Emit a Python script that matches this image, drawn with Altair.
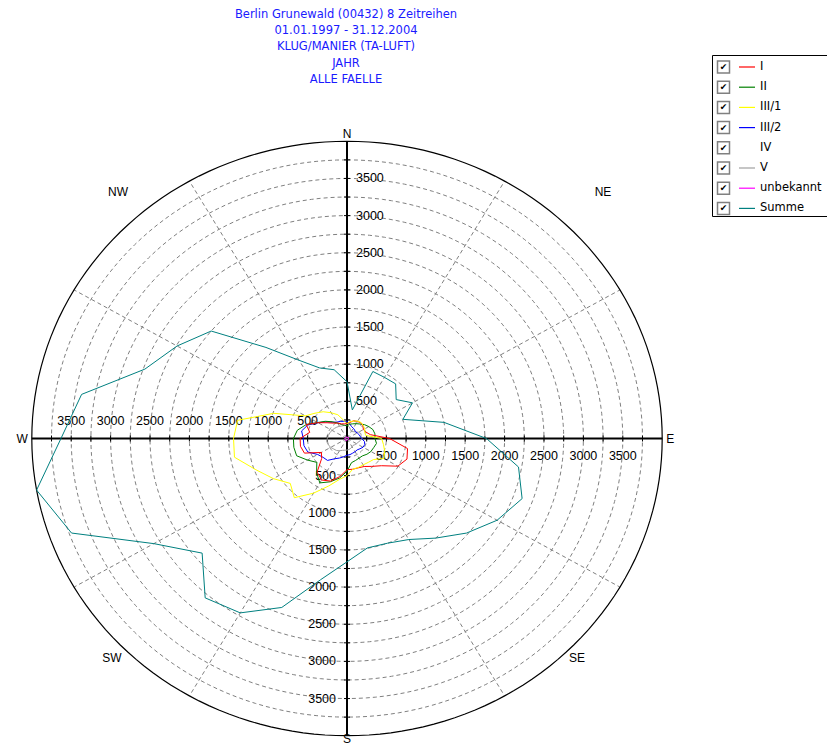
import altair as alt
import numpy as np
import pandas as pd

# ---- values per wind direction (degrees clockwise from north, 10-degree sectors)
bearings = list(range(0, 360, 10))

serie_I = [200, 220, 255, 265, 275, 265, 240, 255, 300, 540, 780, 810,
           745, 570, 490, 435, 420, 420, 420, 520, 610, 645, 590, 420,
           375, 575, 600, 595, 480, 550, 425, 330, 270, 240, 210, 200]
serie_II = [170, 195, 210, 230, 255, 290, 320, 350, 360, 355, 380, 360,
            350, 330, 305, 305, 315, 330, 440, 540, 620, 690, 600, 500,
            580, 680, 685, 680, 640, 550, 430, 360, 295, 240, 200, 180]
serie_III1 = [200, 230, 250, 270, 280, 270, 260, 240, 240, 440, 470, 510,
              540, 440, 420, 410, 415, 420, 500, 560, 680, 850, 1040, 940,
              1080, 1230, 1450, 1440, 1410, 990, 610, 530, 470, 400, 340, 250]
serie_III2 = [230, 200, 170, 160, 150, 140, 150, 160, 170, 185, 225, 240,
              235, 215, 200, 205, 210, 220, 225, 250, 280, 315, 385, 395,
              430, 530, 555, 555, 585, 530, 425, 350, 285, 255, 245, 235]
serie_IV = [15] * 36
serie_V = [180, 160, 130, 110, 120, 140, 170, 190, 180, 190, 170, 150,
           140, 130, 120, 130, 140, 150, 155, 160, 170, 190, 210, 220,
           240, 250, 260, 250, 240, 230, 220, 210, 200, 190, 180, 180]
serie_unbekannt = [20, 15, 15, 18, 20, 22, 25, 22, 20, 20, 18, 18,
                   15, 15, 15, 18, 20, 22, 25, 28, 30, 30, 28, 25,
                   28, 30, 32, 30, 28, 25, 22, 22, 20, 20, 20, 20]
serie_Summe = [764, 390, 960, 950, 960, 815, 960, 755, 1250, 1770, 2210, 2365,
               2200, 1980, 1750, 1570, 1500, 1495, 1660, 1930, 2420, 2710, 2800, 2400,
               2830, 3720, 4000, 3630, 3420, 2730, 2490, 2250, 1600, 1215, 1010, 940]

series_names = ["I", "II", "III/1", "III/2", "IV", "V", "unbekannt", "Summe"]
series_colors = ["#ff0000", "#008000", "#ffff00", "#0000ff", "#ffffff",
                 "#a0a0a0", "#ff00ff", "#008080"]
series_values = [serie_I, serie_II, serie_III1, serie_III2, serie_IV,
                 serie_V, serie_unbekannt, serie_Summe]
# drawing order, bottom to top
draw_order = ["IV", "unbekannt", "V", "III/2", "II", "I", "III/1", "Summe"]

title_lines = ["Berlin Grunewald (00432) 8 Zeitreihen",
               "01.01.1997 - 31.12.2004",
               "KLUG/MANIER (TA-LUFT)",
               "JAHR",
               "ALLE FAELLE"]

ring_values = list(range(250, 4000, 250))   # dashed rings
outer_radius = 4000                          # solid outer circle
spoke_bearings = [30, 60, 120, 150, 210, 240, 300, 330]
tick_labels = [500, 1000, 1500, 2000, 2500, 3000, 3500]

# ---- page geometry
W, H = 827, 747
CX, CY = 347, 438.5          # pole position on the page
KX, KY = 0.0788, 0.0743      # pixels per unit, horizontal / vertical

xscale = alt.Scale(domain=[-CX / KX, (W - CX) / KX], nice=False, zero=False)
yscale = alt.Scale(domain=[-(H - CY) / KY, CY / KY], nice=False, zero=False)

FONT = "Liberation Sans"
WIDE_FONT = "DejaVu Sans"


def X(field):
    return alt.X(field, type="quantitative", scale=xscale, axis=None)


def Y(field):
    return alt.Y(field, type="quantitative", scale=yscale, axis=None)


polar = ("datum.r * sin(datum.b * PI / 180)", "datum.r * cos(datum.b * PI / 180)")

layers = []

# ---- grid rings
ang = np.arange(0, 361, 2)
rings = pd.DataFrame([(r, a) for r in ring_values for a in ang], columns=["r", "b"])
layers.append(
    alt.Chart(rings).mark_line(color="#808080", strokeWidth=1, strokeDash=[4, 3])
    .transform_calculate(px=polar[0], py=polar[1])
    .encode(x=X("px"), y=Y("py"), detail="r:N", order="b:Q")
)

# ---- spokes
spokes = pd.DataFrame({"b": spoke_bearings, "r": outer_radius})
layers.append(
    alt.Chart(spokes).mark_rule(color="#808080", strokeWidth=1, strokeDash=[4, 3])
    .transform_calculate(px=polar[0], py=polar[1], zx="0", zy="0")
    .encode(x=X("zx"), y=Y("zy"), x2="px:Q", y2="py:Q")
)

# ---- outer circle
outer = pd.DataFrame({"r": outer_radius, "b": ang})
layers.append(
    alt.Chart(outer).mark_line(color="#000000", strokeWidth=1.2)
    .transform_calculate(px=polar[0], py=polar[1])
    .encode(x=X("px"), y=Y("py"), order="b:Q")
)

# ---- main cross axes
cross = pd.DataFrame({"x1": [-outer_radius, 0], "y1": [0, -outer_radius],
                      "x2": [outer_radius, 0], "y2": [0, outer_radius]})
layers.append(
    alt.Chart(cross).mark_rule(color="#000000", strokeWidth=2)
    .encode(x=X("x1"), y=Y("y1"), x2="x2:Q", y2="y2:Q")
)

# ---- small ticks along the axes
minor = pd.DataFrame({"v": ring_values})
tick_half = 3.0
tick_calc = dict(ax=f"-{tick_half / KX}", bx=f"{tick_half / KX}",
                 ay=f"-{tick_half / KY}", by=f"{tick_half / KY}", nv="-datum.v")
tick = alt.Chart(minor).mark_rule(color="#000000", strokeWidth=1).transform_calculate(**tick_calc)
layers.append(tick.encode(x=X("ax"), x2="bx:Q", y=Y("v")))
layers.append(tick.encode(x=X("ax"), x2="bx:Q", y=Y("nv")))
layers.append(tick.encode(y=Y("ay"), y2="by:Q", x=X("v")))
layers.append(tick.encode(y=Y("ay"), y2="by:Q", x=X("nv")))

# ---- tick labels on the four half axes
lab = pd.DataFrame({"v": tick_labels})
lab_calc = dict(z="0", nv="-datum.v", t="''+datum.v")
label_style = dict(font=FONT, fontSize=12.5, color="#000000")
lab_base = alt.Chart(lab).transform_calculate(**lab_calc)
layers.append(  # north: right of axis
    lab_base.mark_text(align="left", baseline="middle", dx=9, **label_style)
    .encode(x=X("z"), y=Y("v"), text="t:N")
)
layers.append(  # south: left of axis
    lab_base.mark_text(align="right", baseline="middle", dx=-11, **label_style)
    .encode(x=X("z"), y=Y("nv"), text="t:N")
)
layers.append(  # east: below axis
    lab_base.mark_text(align="center", baseline="top", dy=11, **label_style)
    .encode(x=X("v"), y=Y("z"), text="t:N")
)
layers.append(  # west: above axis
    lab_base.mark_text(align="center", baseline="bottom", dy=-11, **label_style)
    .encode(x=X("nv"), y=Y("z"), text="t:N")
)

# ---- compass labels
compass = pd.DataFrame({
    "name": ["N", "E", "S", "W", "NE", "NW", "SE", "SW"],
    "ux": [0, 4000, 0, -4000, 3249, -2906, 2919, -2982],
    "uy": [4000, 0, -4000, 0, 3318, 3318, -2954, -2954],
    "al": ["center", "left", "center", "right", "center", "center", "center", "center"],
    "bl": ["bottom", "middle", "bottom", "middle", "middle", "middle", "middle", "middle"],
    "dx": [0, 4, 0, -4, 0, 0, 0, 0],
    "dy": [0, 0, 10.5, 0, 0, 0, 0, 0],
})
for _, row in compass.iterrows():
    sub = compass[compass["name"] == row["name"]]
    layers.append(
        alt.Chart(sub).mark_text(align=row["al"], baseline=row["bl"],
                                 dx=float(row["dx"]), dy=float(row["dy"]),
                                 font=FONT, fontSize=12, color="#000000")
        .encode(x=X("ux"), y=Y("uy"), text="name:N")
    )

# ---- data series (closed polygons)
lookup = {n: (c, v) for n, c, v in zip(series_names, series_colors, series_values)}
for name in draw_order:
    colour, vals = lookup[name]
    df = pd.DataFrame({"b": bearings + [360], "r": vals + [vals[0]],
                       "o": list(range(len(vals) + 1))})
    layers.append(
        alt.Chart(df).mark_line(color=colour, strokeWidth=1)
        .transform_calculate(px=polar[0], py=polar[1])
        .encode(x=X("px"), y=Y("py"), order="o:Q")
    )

# ---- title block
tdf = pd.DataFrame({"t": title_lines, "i": range(len(title_lines))})
layers.append(
    alt.Chart(tdf).mark_text(font=WIDE_FONT, fontSize=11.5, color="#1a1aff",
                             align="center", baseline="middle")
    .transform_calculate(ty="15 + datum.i * 16.2", tx="346")
    .encode(x=alt.X("tx:Q", scale=None), y=alt.Y("ty:Q", scale=None), text="t:N")
)

# ---- legend box
one = pd.DataFrame({"k": [0]})
layers.append(
    alt.Chart(one).mark_rect(fill="#ffffff", stroke="#000000", strokeWidth=1)
    .encode(x=alt.value(712.5), x2=alt.value(840), y=alt.value(55.5), y2=alt.value(216.5))
)
ldf = pd.DataFrame({"name": series_names, "i": range(len(series_names)),
                    "col": series_colors})
leg = alt.Chart(ldf).transform_calculate(ly="67 + datum.i * 20.2")
layers.append(
    leg.mark_square(size=144, fill="#ffffff", stroke="#808080", strokeWidth=1.5, opacity=1)
    .encode(x=alt.value(723.5), y=alt.Y("ly:Q", scale=None))
)
layers.append(
    leg.mark_text(text="✔", font="DejaVu Sans", fontSize=9, color="#000000",
                  align="center", baseline="middle")
    .encode(x=alt.value(723.5), y=alt.Y("ly:Q", scale=None))
)
layers.append(
    leg.mark_rule(strokeWidth=1.2)
    .encode(x=alt.value(739), x2=alt.value(755), y=alt.Y("ly:Q", scale=None),
            color=alt.Color("col:N", scale=None))
)
layers.append(
    leg.mark_text(font=WIDE_FONT, fontSize=11.5, color="#000000", align="left",
                  baseline="middle")
    .encode(x=alt.value(760), y=alt.Y("ly:Q", scale=None), text="name:N")
)

chart = (
    alt.layer(*layers)
    .properties(width=W, height=H, padding=0, background="#ffffff",
                autosize=alt.AutoSizeParams(type="none"))
    .configure_view(stroke=None)
)

chart.save("out.html", embed_options={"renderer": "svg", "actions": False})
